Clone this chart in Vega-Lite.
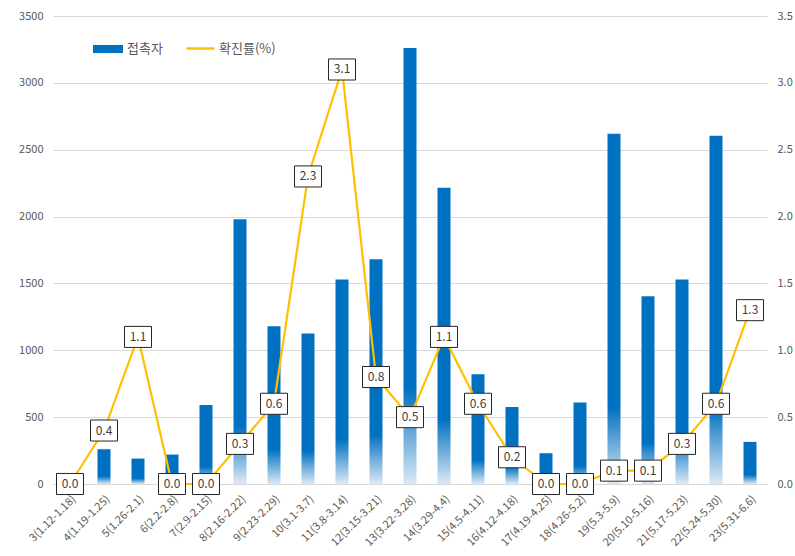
{
  "$schema": "https://vega.github.io/schema/vega-lite/v6.json",
  "width": 714,
  "height": 468,
  "autosize": "none",
  "padding": {"left": 53, "top": 16, "right": 28, "bottom": 72},
  "background": "white",
  "config": {
    "view": {"stroke": null},
    "font": "Noto Sans CJK KR",
    "axis": {"labelColor": "#595959", "labelFontSize": 11, "ticks": false, "domain": false, "gridColor": "#d9d9d9", "titleColor": "#595959"}
  },
  "data": {
    "values": [
      {"week": "3(1.12-1.18)", "contacts": 0, "rate": 0.0},
      {"week": "4(1.19-1.25)", "contacts": 260, "rate": 0.4},
      {"week": "5(1.26-2.1)", "contacts": 190, "rate": 1.1},
      {"week": "6(2.2-2.8)", "contacts": 220, "rate": 0.0},
      {"week": "7(2.9-2.15)", "contacts": 590, "rate": 0.0},
      {"week": "8(2.16-2.22)", "contacts": 1980, "rate": 0.3},
      {"week": "9(2.23-2.29)", "contacts": 1180, "rate": 0.6},
      {"week": "10(3.1-3.7)", "contacts": 1125, "rate": 2.3},
      {"week": "11(3.8-3.14)", "contacts": 1530, "rate": 3.1},
      {"week": "12(3.15-3.21)", "contacts": 1680, "rate": 0.8},
      {"week": "13(3.22-3.28)", "contacts": 3260, "rate": 0.5},
      {"week": "14(3.29-4.4)", "contacts": 2215, "rate": 1.1},
      {"week": "15(4.5-4.11)", "contacts": 820, "rate": 0.6},
      {"week": "16(4.12-4.18)", "contacts": 575, "rate": 0.2},
      {"week": "17(4.19-4.25)", "contacts": 230, "rate": 0.0},
      {"week": "18(4.26-5.2)", "contacts": 610, "rate": 0.0},
      {"week": "19(5.3-5.9)", "contacts": 2620, "rate": 0.1},
      {"week": "20(5.10-5.16)", "contacts": 1405, "rate": 0.1},
      {"week": "21(5.17-5.23)", "contacts": 1530, "rate": 0.3},
      {"week": "22(5.24-5.30)", "contacts": 2605, "rate": 0.6},
      {"week": "23(5.31-6.6)", "contacts": 315, "rate": 1.3}
    ]
  },
  "encoding": {
    "x": {
      "field": "week", "type": "nominal", "sort": null, "title": null,
      "scale": {"paddingInner": 0, "paddingOuter": 0},
      "axis": {"labelAngle": -45, "labelPadding": 9, "domain": true, "domainColor": "#d9d9d9", "labelFontSize": 11}
    }
  },
  "layer": [
    {
      "encoding": {
        "y": {
          "field": "contacts", "type": "quantitative", "title": null,
          "scale": {"domain": [0, 3500]},
          "axis": {"values": [0, 500, 1000, 1500, 2000, 2500, 3000, 3500], "format": "d", "grid": true, "labelPadding": 10, "orient": "left"}
        }
      },
      "layer": [
        {
          "mark": {
            "type": "bar", "width": 13,
            "fill": {
              "gradient": "linear", "x1": 0, "x2": 0, "y1": 0, "y2": 1,
              "stops": [
                {"offset": 0, "color": "#0070C0"},
                {"offset": 0.78, "color": "#0070C0"},
                {"offset": 1, "color": "#dce9f6"}
              ]
            }
          }
        },
        {
          "mark": {"type": "bar", "width": 13, "opacity": 0},
          "encoding": {
            "fill": {
              "datum": "접촉자",
              "scale": {"domain": ["접촉자"], "range": ["#0070C0"]},
              "legend": {
                "title": null, "orient": "none", "legendX": 39, "legendY": 17,
                "symbolType": "M-1,-0.27H1V0.27H-1Z", "symbolSize": 900,
                "symbolOpacity": 1, "labelFontSize": 13, "labelColor": "#595959", "labelOffset": 3,
                "encode": {"symbols": {"update": {"opacity": {"value": 1}, "fill": {"value": "#0070C0"}, "fillOpacity": {"value": 1}}}}
              }
            }
          }
        }
      ]
    },
    {
      "encoding": {
        "y": {
          "field": "rate", "type": "quantitative", "title": null,
          "scale": {"domain": [0, 3.5]},
          "axis": {"orient": "right", "values": [0, 0.5, 1, 1.5, 2, 2.5, 3, 3.5], "format": ".1f", "grid": false, "labelPadding": 10}
        }
      },
      "layer": [
        {
          "mark": {"type": "line", "strokeWidth": 2.2, "interpolate": "linear"},
          "encoding": {
            "stroke": {
              "datum": "확진률(%)",
              "scale": {"domain": ["확진률(%)"], "range": ["#FFC000"]},
              "legend": {
                "title": null, "orient": "none", "legendX": 132, "legendY": 17,
                "symbolType": "stroke", "symbolSize": 784, "symbolStrokeWidth": 2.5,
                "labelFontSize": 13, "labelColor": "#595959", "labelOffset": 3
              }
            }
          }
        },
        {
          "mark": {"type": "point", "shape": "M-1,-0.78H1V0.78H-1Z", "size": 729, "filled": true, "fill": "white", "stroke": "#262626", "strokeWidth": 1, "opacity": 1}
        },
        {
          "mark": {"type": "text", "fontSize": 12, "color": "#404040", "baseline": "middle", "align": "center"},
          "encoding": {"text": {"field": "rate", "type": "quantitative", "format": ".1f"}}
        }
      ]
    }
  ],
  "resolve": {"scale": {"y": "independent"}}
}
